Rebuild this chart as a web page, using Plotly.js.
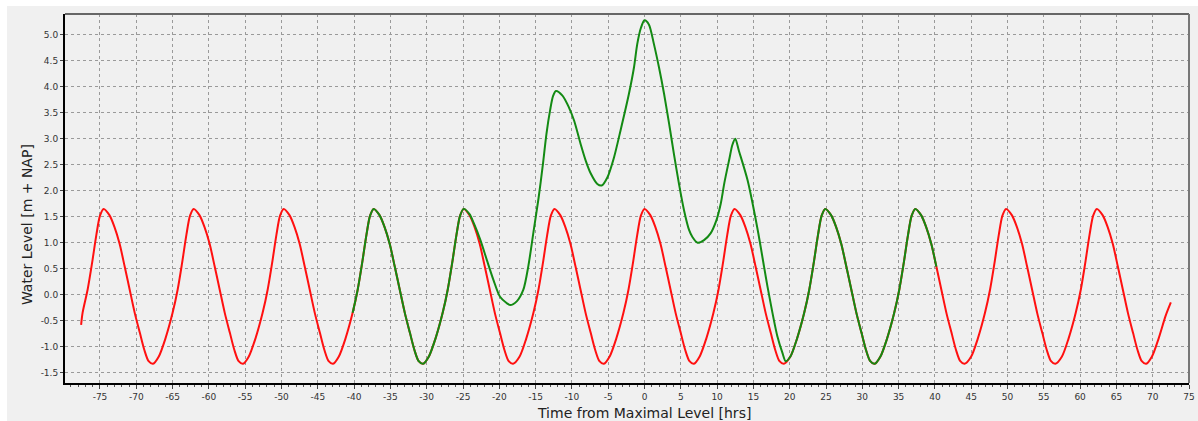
<!DOCTYPE html>
<html>
<head>
<meta charset="utf-8">
<script src="https://cdn.plot.ly/plotly-3.0.1.min.js"></script>
<style>html,body{margin:0;padding:0;background:#fff;}#chart{width:1198px;height:421px;}</style>
</head>
<body>
<div id="chart"></div>
<script>
// Astronomical tide (red), hours from maximal level
var tideHours = [
-77.6,-77.4,-76.7,-76.1,-75.5,-75.0,-74.5,-73.7,-73.0,-72.3,-71.6,-70.9,-70.2,-69.5,-68.9,-68.3,-67.7,
-66.9,-66.0,-65.0,-64.3,-63.7,-63.1,-62.6,-62.1,-61.3,-60.6,-59.9,-59.2,-58.5,-57.8,-57.1,-56.5,-55.9,-55.3,
-54.5,-53.6,-52.6,-51.9,-51.3,-50.7,-50.2,-49.7,-48.9,-48.2,-47.5,-46.8,-46.1,-45.4,-44.7,-44.1,-43.5,-42.9,
-42.1,-41.2,-40.2,-39.5,-38.9,-38.3,-37.8,-37.3,-36.5,-35.8,-35.1,-34.4,-33.7,-33.0,-32.3,-31.7,-31.1,-30.5,
-29.7,-28.8,-27.8,-27.1,-26.5,-25.9,-25.4,-24.9,-24.1,-23.4,-22.7,-22.0,-21.3,-20.6,-19.9,-19.3,-18.7,-18.1,
-17.2,-16.3,-15.3,-14.6,-14.0,-13.4,-12.9,-12.4,-11.6,-10.9,-10.2,-9.5,-8.8,-8.1,-7.4,-6.8,-6.2,-5.6,
-4.8,-3.9,-2.9,-2.2,-1.6,-1.0,-0.5,0.0,0.8,1.5,2.2,2.9,3.6,4.3,5.0,5.6,6.2,6.8,
7.6,8.5,9.5,10.2,10.8,11.4,11.9,12.4,13.2,13.9,14.6,15.3,16.0,16.7,17.4,18.0,18.6,19.2,
20.1,21.0,22.0,22.7,23.3,23.9,24.4,24.9,25.7,26.4,27.1,27.8,28.5,29.2,29.9,30.5,31.1,31.7,
32.5,33.4,34.4,35.1,35.7,36.3,36.8,37.3,38.1,38.8,39.5,40.2,40.9,41.6,42.3,42.9,43.5,44.1,
45.0,45.9,46.9,47.6,48.2,48.8,49.3,49.8,50.6,51.3,52.0,52.7,53.4,54.1,54.8,55.4,56.0,56.6,
57.5,58.4,59.4,60.1,60.7,61.3,61.8,62.3,63.1,63.8,64.5,65.2,65.9,66.6,67.3,67.9,68.5,69.1,
69.9,70.8,71.8,72.5
];
var tideLevel = [
-0.58,-0.35,0.10,0.60,1.15,1.52,1.65,1.53,1.30,0.98,0.54,0.09,-0.36,-0.74,-1.06,-1.28,-1.33,
-1.19,-0.85,-0.35,0.10,0.60,1.15,1.52,1.65,1.53,1.30,0.98,0.54,0.09,-0.36,-0.74,-1.06,-1.28,-1.33,
-1.19,-0.85,-0.35,0.10,0.60,1.15,1.52,1.65,1.53,1.30,0.98,0.54,0.09,-0.36,-0.74,-1.06,-1.28,-1.33,
-1.19,-0.85,-0.35,0.10,0.60,1.15,1.52,1.65,1.53,1.30,0.98,0.54,0.09,-0.36,-0.74,-1.06,-1.28,-1.33,
-1.19,-0.85,-0.35,0.10,0.60,1.15,1.52,1.65,1.53,1.30,0.98,0.54,0.09,-0.36,-0.74,-1.06,-1.28,-1.33,
-1.19,-0.85,-0.35,0.10,0.60,1.15,1.52,1.65,1.53,1.30,0.98,0.54,0.09,-0.36,-0.74,-1.06,-1.28,-1.33,
-1.19,-0.85,-0.35,0.10,0.60,1.15,1.52,1.65,1.53,1.30,0.98,0.54,0.09,-0.36,-0.74,-1.06,-1.28,-1.33,
-1.19,-0.85,-0.35,0.10,0.60,1.15,1.52,1.65,1.53,1.30,0.98,0.54,0.09,-0.36,-0.74,-1.06,-1.28,-1.33,
-1.19,-0.85,-0.35,0.10,0.60,1.15,1.52,1.65,1.53,1.30,0.98,0.54,0.09,-0.36,-0.74,-1.06,-1.28,-1.33,
-1.19,-0.85,-0.35,0.10,0.60,1.15,1.52,1.65,1.53,1.30,0.98,0.54,0.09,-0.36,-0.74,-1.06,-1.28,-1.33,
-1.19,-0.85,-0.35,0.10,0.60,1.15,1.52,1.65,1.53,1.30,0.98,0.54,0.09,-0.36,-0.74,-1.06,-1.28,-1.33,
-1.19,-0.85,-0.35,0.10,0.60,1.15,1.52,1.65,1.53,1.30,0.98,0.54,0.09,-0.36,-0.74,-1.06,-1.28,-1.33,
-1.19,-0.85,-0.40,-0.15
];

// Storm surge water level (green)
var surgeHours = [
-40.2,-39.5,-38.9,-38.3,-37.8,-37.3,-36.5,-35.8,-35.1,-34.4,-33.7,-33.0,-32.3,-31.7,-31.1,-30.5,
-29.7,-28.8,-27.8,-27.1,-26.5,-25.9,-25.4,-24.9,
-24.1,-23.5,-22.6,-21.7,-20.8,-19.9,-19.0,-18.5,-17.6,-16.7,-16.0,-15.3,-14.6,-14.0,-13.5,-13.0,-12.6,-12.2,
-11.3,-10.4,-9.7,-8.8,-8.1,-7.4,-6.5,-5.9,-5.1,-4.2,-3.3,-2.15,-1.45,-1.0,-0.5,0.0,
0.6,1.3,2.0,2.7,3.4,4.05,4.75,5.45,6.15,6.6,7.3,8.2,9.1,9.9,10.5,11.0,11.7,12.1,12.5,
13.0,14.2,15.6,16.95,18.3,19.0,19.45,
20.1,21.0,22.0,22.7,23.3,23.9,24.4,24.9,25.7,26.4,27.1,27.8,28.5,29.2,29.9,30.5,31.1,31.7,
32.5,33.4,34.4,35.1,35.7,36.3,36.8,37.3,38.1,38.8,39.5,40.2
];
var surgeLevel = [
-0.35,0.10,0.60,1.15,1.52,1.65,1.53,1.30,0.98,0.54,0.09,-0.36,-0.74,-1.06,-1.28,-1.33,
-1.19,-0.85,-0.35,0.10,0.60,1.15,1.52,1.65,
1.55,1.37,1.05,0.66,0.28,-0.04,-0.16,-0.20,-0.13,0.09,0.55,1.20,1.85,2.50,3.10,3.55,3.82,3.92,
3.83,3.60,3.35,2.90,2.58,2.33,2.13,2.10,2.26,2.64,3.16,3.86,4.37,4.82,5.13,5.28,
5.20,4.82,4.37,3.86,3.28,2.71,2.13,1.62,1.24,1.11,1.00,1.05,1.18,1.43,1.75,2.15,2.62,2.88,3.00,
2.77,2.20,1.24,0.15,-0.80,-1.12,-1.28,
-1.19,-0.85,-0.35,0.10,0.60,1.15,1.52,1.65,1.53,1.30,0.98,0.54,0.09,-0.36,-0.74,-1.06,-1.28,-1.33,
-1.19,-0.85,-0.35,0.10,0.60,1.15,1.52,1.65,1.53,1.30,0.98,0.54
];

var xTickVals = [-75,-70,-65,-60,-55,-50,-45,-40,-35,-30,-25,-20,-15,-10,-5,0,5,10,15,20,25,30,35,40,45,50,55,60,65,70,75];
var xTickText = ['-75','-70','-65','-60','-55','-50','-45','-40','-35','-30','-25','-20','-15','-10','-5','0','5','10','15','20','25','30','35','40','45','50','55','60','65','70','75'];
var yTickVals = [-1.5,-1.0,-0.5,0.0,0.5,1.0,1.5,2.0,2.5,3.0,3.5,4.0,4.5,5.0];
var yTickText = ['-1.5','-1.0','-0.5','0.0','0.5','1.0','1.5','2.0','2.5','3.0','3.5','4.0','4.5','5.0'];

var xTitle = 'Time from Maximal Level [hrs]';
var yTitle = 'Water Level [m + NAP]';

var traces = [
  {x: tideHours, y: tideLevel, type: 'scatter', mode: 'lines',
   line: {color: '#ff1010', width: 2, shape: 'spline', smoothing: 0.8}, hoverinfo: 'skip'},
  {x: surgeHours, y: surgeLevel, type: 'scatter', mode: 'lines',
   line: {color: '#138a13', width: 2, shape: 'spline', smoothing: 0.8}, hoverinfo: 'skip'}
];

var tickFont = {family: 'DejaVu Sans', size: 9, color: '#333'};
var layout = {
  width: 1198, height: 421,
  margin: {l: 65, r: 9, t: 14, b: 38, pad: 0},
  paper_bgcolor: '#ffffff',
  plot_bgcolor: '#f0f0f0',
  showlegend: false,
  xaxis: {
    range: [-79.82, 75], tickmode: 'array', tickvals: xTickVals, ticktext: xTickText,
    ticks: 'outside', ticklen: 4, tickwidth: 1, tickcolor: '#444', tickfont: tickFont,
    showgrid: true, gridcolor: '#9a9a9a', gridwidth: 1, griddash: '3px,3px',
    zeroline: false, showline: true, linecolor: '#000', linewidth: 2,
    minor: {tickmode: 'linear', tick0: 0, dtick: 1, ticks: 'outside', ticklen: 2, tickcolor: '#555', showgrid: false},
    fixedrange: true
  },
  yaxis: {
    range: [-1.70, 5.40], tickmode: 'array', tickvals: yTickVals, ticktext: yTickText,
    ticks: 'outside', ticklen: 3, tickwidth: 1, tickcolor: '#444', tickfont: tickFont,
    showgrid: true, gridcolor: '#9a9a9a', gridwidth: 1, griddash: '3px,3px',
    zeroline: false, showline: true, linecolor: '#000', linewidth: 2,
    fixedrange: true
  },
  shapes: [
    {type: 'rect', xref: 'paper', yref: 'paper', x0: -0.0516, x1: 1.01, y0: -0.11, y1: 1.0217,
     fillcolor: '#f0f0f0', line: {width: 0}, layer: 'below'},
    {type: 'line', xref: 'paper', yref: 'paper', x0: 0, x1: 1, y0: 1, y1: 1,
     line: {color: '#666', width: 2}, layer: 'above'},
    {type: 'line', xref: 'paper', yref: 'paper', x0: 1, x1: 1, y0: 0, y1: 1,
     line: {color: '#777', width: 2}, layer: 'above'}
  ],
  annotations: [
    {text: yTitle, xref: 'paper', yref: 'paper', x: -0.0338, y: 0.428, textangle: -90,
     showarrow: false, xanchor: 'center', yanchor: 'middle',
     font: {family: 'DejaVu Sans', size: 14, color: '#222'}},
    {text: xTitle, xref: 'paper', yref: 'paper', x: 0.515, y: -0.0813,
     showarrow: false, xanchor: 'center', yanchor: 'middle',
     font: {family: 'DejaVu Sans', size: 14, color: '#222'}}
  ]
};

Plotly.newPlot('chart', traces, layout, {staticPlot: true, displayModeBar: false});
</script>
</body>
</html>
